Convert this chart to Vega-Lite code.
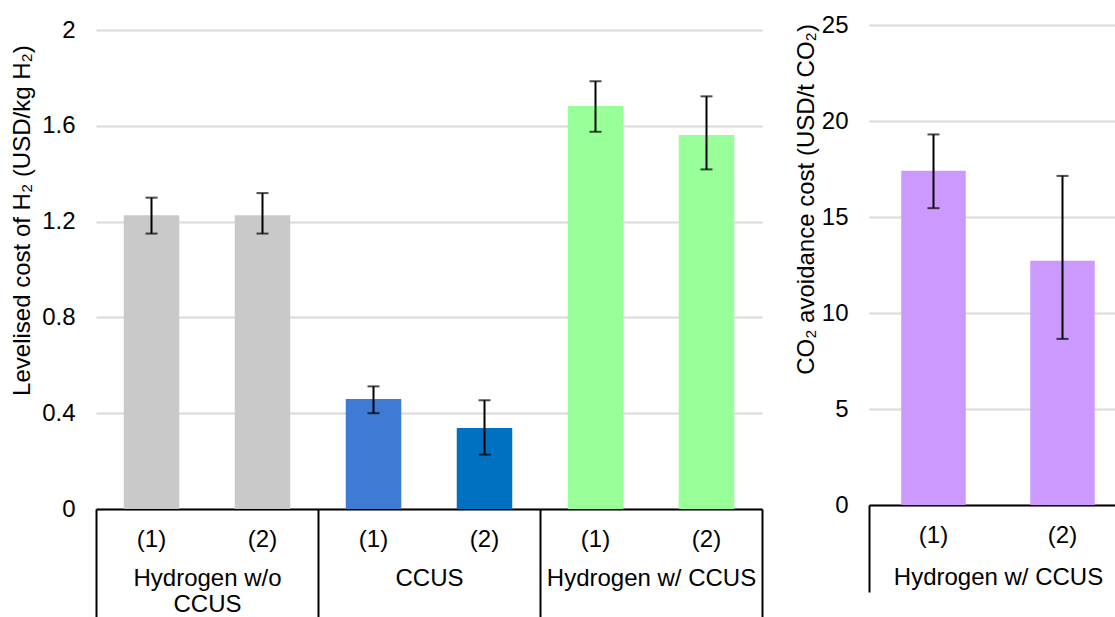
{
  "$schema": "https://vega.github.io/schema/vega-lite/v6.json",
  "padding": {"left": 9, "top": 13, "right": 0, "bottom": 0},
  "background": "white",
  "config": {
    "font": "Liberation Sans",
    "view": {"stroke": null},
    "axis": {"labelColor": "#000000", "titleColor": "#000000", "labelFont": "Liberation Sans", "titleFont": "Liberation Sans", "labelFontSize": 24, "titleFontSize": 24, "titleFontWeight": "normal", "labelLimit": 0}
  },
  "datasets": {
    "lcoh": [
      {"bar": "Hydrogen w/o CCUS (1)", "category": "Hydrogen w/o CCUS", "value": 1.227, "lo": 1.15, "hi": 1.30},
      {"bar": "Hydrogen w/o CCUS (2)", "category": "Hydrogen w/o CCUS", "value": 1.227, "lo": 1.15, "hi": 1.319},
      {"bar": "CCUS (1)", "category": "CCUS", "value": 0.459, "lo": 0.40, "hi": 0.512},
      {"bar": "CCUS (2)", "category": "CCUS", "value": 0.338, "lo": 0.227, "hi": 0.454},
      {"bar": "Hydrogen w/ CCUS (1)", "category": "Hydrogen w/ CCUS", "value": 1.683, "lo": 1.575, "hi": 1.786},
      {"bar": "Hydrogen w/ CCUS (2)", "category": "Hydrogen w/ CCUS", "value": 1.562, "lo": 1.418, "hi": 1.723}
    ],
    "avoid": [
      {"bar": "Hydrogen w/ CCUS (1)", "category": "Hydrogen w/ CCUS", "value": 17.41, "lo": 15.46, "hi": 19.3},
      {"bar": "Hydrogen w/ CCUS (2)", "category": "Hydrogen w/ CCUS", "value": 12.72, "lo": 8.65, "hi": 17.14}
    ]
  },
  "hconcat": [
    {
      "width": 666,
      "height": 484,
      "data": {"name": "lcoh"},
      "layer": [
        {
          "encoding": {
            "x": {"field": "bar", "type": "nominal", "sort": null,
              "scale": {"paddingInner": 0.5, "paddingOuter": 0.25},
              "axis": {"orient": "bottom", "title": null, "labelExpr": "slice(datum.value, -3)", "labelAngle": 0, "ticks": false, "domain": true, "domainColor": "#000000", "domainWidth": 2, "labelPadding": 18, "grid": false}}
          },
          "layer": [
            {
              "mark": {"type": "bar"},
              "encoding": {
                "y": {"field": "value", "type": "quantitative",
                  "scale": {"domain": [0, 2.0209], "nice": false, "zero": true},
                  "axis": {"values": [0, 0.4, 0.8, 1.2, 1.6, 2], "format": "~g", "grid": true, "gridColor": "#D9D9D9", "gridWidth": 2, "domain": false, "ticks": false, "labelPadding": 21,
                    "title": "Levelised cost of H₂ (USD/kg H₂)", "titleX": -74, "titleY": 195, "titleAlign": "center", "titleBaseline": "middle", "titleAngle": -90}},
                "color": {"field": "bar", "type": "nominal", "sort": null, "legend": null,
                  "scale": {"range": ["#C9C9C9", "#C9C9C9", "#3F7AD4", "#0070C0", "#99FF99", "#99FF99"]}}
              }
            },
            {
              "mark": {"type": "rule", "color": "#000000", "strokeWidth": 2},
              "encoding": {"y": {"field": "lo", "type": "quantitative"}, "y2": {"field": "hi"}}
            },
            {
              "mark": {"type": "tick", "orient": "horizontal", "color": "#000000", "size": 12, "thickness": 2},
              "encoding": {"y": {"field": "lo", "type": "quantitative"}}
            },
            {
              "mark": {"type": "tick", "orient": "horizontal", "color": "#000000", "size": 12, "thickness": 2},
              "encoding": {"y": {"field": "hi", "type": "quantitative"}}
            }
          ]
        },
        {
          "mark": {"type": "bar", "opacity": 0},
          "encoding": {
            "x": {"field": "category", "type": "nominal", "sort": null,
              "scale": {"paddingInner": 0, "paddingOuter": 0},
              "axis": {"orient": "bottom", "title": null, "labelAngle": 0, "labelExpr": "datum.value == 'Hydrogen w/o CCUS' ? ['Hydrogen w/o', 'CCUS'] : datum.value",
                "ticks": true, "tickBand": "extent", "tickSize": 109, "tickColor": "#000000", "tickWidth": 2, "domain": false, "grid": false,
                "labelPadding": -52, "labelLineHeight": 26, "labelBaseline": "top"}},
            "y": {"datum": 0, "type": "quantitative"}
          }
        }
      ],
      "resolve": {"scale": {"x": "independent"}, "axis": {"x": "independent"}}
    },
    {
      "width": 258,
      "height": 480,
      "data": {"name": "avoid"},
      "layer": [
        {
          "encoding": {
            "x": {"field": "bar", "type": "nominal", "sort": null,
              "scale": {"paddingInner": 0.5, "paddingOuter": 0.25},
              "axis": {"orient": "bottom", "title": null, "labelExpr": "slice(datum.value, -3)", "labelAngle": 0, "ticks": false, "domain": true, "domainColor": "#000000", "domainWidth": 2, "labelPadding": 18, "grid": false}}
          },
          "layer": [
            {
              "mark": {"type": "bar", "color": "#CC99FF"},
              "encoding": {
                "y": {"field": "value", "type": "quantitative",
                  "scale": {"domain": [0, 25], "nice": false},
                  "axis": {"values": [0, 5, 10, 15, 20, 25], "grid": true, "gridColor": "#D9D9D9", "gridWidth": 2, "domain": false, "ticks": false, "labelPadding": 21,
                    "title": "CO₂ avoidance cost (USD/t CO₂)", "titleX": -63, "titleY": 174, "titleAlign": "center", "titleBaseline": "middle", "titleAngle": -90}}
              }
            },
            {
              "mark": {"type": "rule", "color": "#000000", "strokeWidth": 2},
              "encoding": {"y": {"field": "lo", "type": "quantitative"}, "y2": {"field": "hi"}}
            },
            {
              "mark": {"type": "tick", "orient": "horizontal", "color": "#000000", "size": 12, "thickness": 2},
              "encoding": {"y": {"field": "lo", "type": "quantitative"}}
            },
            {
              "mark": {"type": "tick", "orient": "horizontal", "color": "#000000", "size": 12, "thickness": 2},
              "encoding": {"y": {"field": "hi", "type": "quantitative"}}
            }
          ]
        },
        {
          "mark": {"type": "bar", "opacity": 0},
          "encoding": {
            "x": {"field": "category", "type": "nominal", "sort": null,
              "scale": {"paddingInner": 0, "paddingOuter": 0},
              "axis": {"orient": "bottom", "title": null, "labelAngle": 0,
                "ticks": true, "tickBand": "extent", "tickSize": 87, "tickColor": "#000000", "tickWidth": 2, "domain": false, "grid": false,
                "labelPadding": -27, "labelBaseline": "top"}},
            "y": {"datum": 0, "type": "quantitative"}
          }
        }
      ],
      "resolve": {"scale": {"x": "independent"}, "axis": {"x": "independent"}}
    }
  ],
  "spacing": 107,
  "bounds": "flush"
}
